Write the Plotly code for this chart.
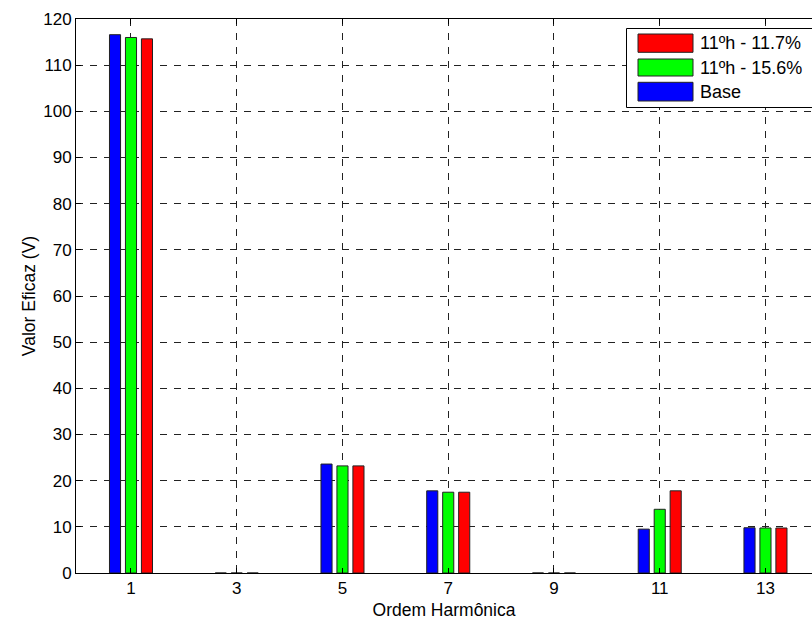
import plotly.graph_objects as go

categories = ["1", "3", "5", "7", "9", "11", "13"]
base = [116.6, 0, 23.6, 17.8, 0, 9.5, 9.8]
h11_156 = [116.0, 0, 23.2, 17.5, 0, 13.8, 9.75]
h11_117 = [115.7, 0, 23.2, 17.5, 0, 17.8, 9.75]
y_ticks = list(range(0, 121, 10))

series_names = ["Base", "11ºh - 15.6%", "11ºh - 11.7%"]
series_values = [base, h11_156, h11_117]
series_colors = ["#0000ff", "#00ff00", "#ff0000"]

W, H = 812, 622
# plot area in window pixels
PL, PR, PT, PB = 76, 812, 19, 573
FONT = "Liberation Sans, Arial, sans-serif"
FS_TICK = 17
FS_TITLE = 17.5
FS_LEG = 18

idx = list(range(len(categories)))

fig = go.Figure()
for name, vals, col in zip(series_names, series_values, series_colors):
    fig.add_trace(go.Bar(
        x=idx, y=vals, name=name, showlegend=False,
        marker=dict(color=col, line=dict(color="#222222", width=1)),
    ))

def px(xp):
    return (xp - PL) / (PR - PL)

def py(yp):
    return (PB - yp) / (PB - PT)

# custom MATLAB-like legend
shapes = [dict(type="rect", xref="paper", yref="paper",
               x0=px(626.5), x1=px(830), y0=py(107.5), y1=py(28.5),
               fillcolor="white", line=dict(color="black", width=1), layer="above")]
annotations = []
rows = [(34, 52.3), (59, 76), (82.3, 101)]
for (y0, y1), name, col in zip(rows, series_names[::-1], series_colors[::-1]):
    shapes.append(dict(type="rect", xref="paper", yref="paper",
                       x0=px(638), x1=px(693), y0=py(y1), y1=py(y0),
                       fillcolor=col, line=dict(color="#222222", width=1), layer="above"))
    annotations.append(dict(xref="paper", yref="paper", x=px(698), y=py((y0 + y1) / 2),
                            text=name, showarrow=False, xanchor="left", yanchor="middle",
                            font=dict(family=FONT, size=FS_LEG, color="black")))

fig.update_layout(
    width=W, height=H,
    margin=dict(l=PL, r=W - PR, t=PT, b=H - PB, autoexpand=False),
    paper_bgcolor="white", plot_bgcolor="white",
    barmode="group", bargap=0.547, bargroupgap=0.305,
    font=dict(family=FONT, size=FS_TICK, color="black"),
    shapes=shapes, annotations=annotations,
    xaxis=dict(
        range=[-0.52, 6.44], tickmode="array", tickvals=idx, ticktext=categories,
        showline=True, linecolor="black", linewidth=1, mirror="ticks",
        ticks="inside", ticklen=5, tickcolor="black",
        showgrid=True, gridcolor="#222222", gridwidth=1, griddash="7px,7px",
        zeroline=False, automargin=False, tickfont=dict(size=FS_TICK),
        title=dict(text="Ordem Harmônica", standoff=6, font=dict(size=FS_TITLE)),
    ),
    yaxis=dict(
        range=[0, 120], tickmode="array", tickvals=y_ticks,
        showline=True, linecolor="black", linewidth=1, mirror=False,
        ticks="inside", ticklen=5, tickcolor="black",
        showgrid=True, gridcolor="#222222", gridwidth=1, griddash="7px,7px",
        zeroline=False, automargin=False, tickfont=dict(size=FS_TICK),
        title=dict(text="Valor Eficaz (V)", standoff=3, font=dict(size=FS_TITLE)),
    ),
)

fig.write_html(
    "out.html",
    config={"displayModeBar": False},
    post_script="document.body.style.margin='0';document.body.style.overflow='hidden';",
)
